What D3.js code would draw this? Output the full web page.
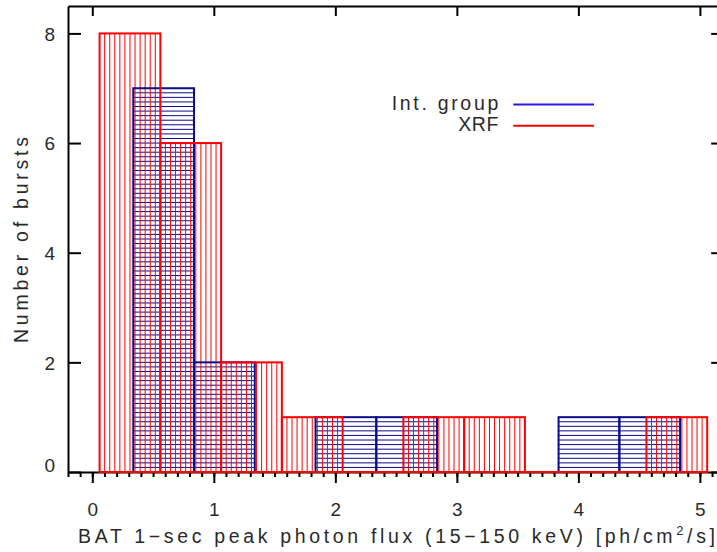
<!DOCTYPE html>
<html>
<head>
<meta charset="utf-8">
<script src="https://cdn.jsdelivr.net/npm/d3@7"></script>
<style>
  html, body { margin: 0; padding: 0; background: #fff; }
  svg { display: block; }
  text { font-family: "Liberation Sans", Arial, sans-serif; fill: #2a2a2a; }
</style>
</head>
<body>
<svg id="chart" width="717" height="552"></svg>
<script>
// Histogram bins (left edges, 0.5 wide) and burst counts per bin
const binWidth = 0.5;
const xrfLeftEdges = [0.06, 0.56, 1.06, 1.56, 2.06, 2.56, 3.06, 3.56, 4.06, 4.56];
const xrfCounts    = [8, 6, 2, 1, 0, 1, 1, 0, 0, 1];
const intLeftEdges = [0.337, 0.837, 1.337, 1.837, 2.337, 2.837, 3.337, 3.837, 4.337];
const intCounts    = [7, 2, 0, 1, 1, 0, 0, 1, 1];

// Axis ticks
const xMajorTicks = [0, 1, 2, 3, 4, 5];
const xMinorTicks = d3.range(-2, 53).map(i => i / 10);
const yTicks = [0, 2, 4, 6, 8];

const seriesNames = ["Int. group", "XRF"];
const xLabel = "BAT 1\u2212sec peak photon flux (15\u2212150 keV) [ph/cm";
const yLabel = "Number of bursts";

const svg = d3.select("#chart");
const plot = { left: 68, right: 724.2, top: 6, bottom: 472 };

const x = d3.scaleLinear().domain([-0.2, 5.2]).range([plot.left, plot.right]);
const y = d3.scaleLinear().domain([0, 8.5]).range([plot.bottom, plot.top]);

const INT_COLOR = "#0b0b8a";
const INT_LEGEND = "#2a16dc";
const XRF_COLOR = "#ff0000";

const intBins = intLeftEdges.map((x0, i) => ({ x0, x1: x0 + binWidth, n: intCounts[i] }));
const xrfBins = xrfLeftEdges.map((x0, i) => ({ x0, x1: x0 + binWidth, n: xrfCounts[i] }));

// Int. group: horizontal hatching, 12 lines per unit count
const gIntHatch = svg.append("g");
intBins.forEach(b => {
  for (let k = 1; k < b.n * 12; k++) {
    gIntHatch.append("line")
      .attr("x1", x(b.x0)).attr("x2", x(b.x1))
      .attr("y1", y(k / 12)).attr("y2", y(k / 12))
      .attr("stroke", INT_COLOR).attr("stroke-width", 1);
  }
});

// XRF: vertical hatching, 12 lines per bin
const gXrfHatch = svg.append("g");
xrfBins.filter(b => b.n > 0).forEach(b => {
  for (let k = 1; k < 12; k++) {
    const xv = b.x0 + k * (b.x1 - b.x0) / 12;
    gXrfHatch.append("line")
      .attr("x1", x(xv)).attr("x2", x(xv))
      .attr("y1", y(0)).attr("y2", y(b.n))
      .attr("stroke", XRF_COLOR).attr("stroke-width", 1);
  }
});

// Axes
const axisStyle = g => {
  g.selectAll("path.domain").attr("stroke", "#000").attr("stroke-width", 2);
  g.selectAll(".tick line").attr("stroke", "#000").attr("stroke-width", 2);
};

svg.append("g")
  .attr("transform", `translate(0,${plot.bottom})`)
  .call(d3.axisBottom(x).tickValues(xMinorTicks).tickSize(5).tickSizeOuter(0).tickFormat(""))
  .call(axisStyle);

const xMajor = svg.append("g")
  .attr("transform", `translate(0,${plot.bottom})`)
  .call(d3.axisBottom(x).tickValues(xMajorTicks).tickSize(11).tickSizeOuter(0).tickFormat(d3.format("d")))
  .call(axisStyle);
xMajor.select("path.domain").remove();
xMajor.selectAll(".tick text")
  .attr("y", 44).attr("dy", null)
  .style("font-size", "19px").attr("fill", "#2a2a2a");

svg.append("g")
  .attr("transform", `translate(0,${plot.top})`)
  .call(d3.axisTop(x).tickValues(xMajorTicks).tickSize(-10).tickSizeOuter(0).tickFormat(""))
  .call(axisStyle);

const yAxis = svg.append("g")
  .attr("transform", `translate(${plot.left},0)`)
  .call(d3.axisLeft(y).tickValues(yTicks).tickSize(-13).tickSizeOuter(0).tickPadding(13).tickFormat(d3.format("d")))
  .call(axisStyle);
yAxis.selectAll(".tick text")
  .attr("dy", d => d === 0 ? "-0.05em" : "0.36em")
  .style("font-size", "19px").attr("fill", "#2a2a2a");

svg.append("g")
  .attr("transform", `translate(${plot.right},0)`)
  .call(d3.axisRight(y).tickValues(yTicks).tickSize(-13).tickSizeOuter(0).tickFormat(""))
  .call(axisStyle);

// Bar outlines
svg.append("g").selectAll("rect")
  .data(intBins.filter(b => b.n > 0))
  .join("rect")
  .attr("x", b => x(b.x0)).attr("width", b => x(b.x1) - x(b.x0))
  .attr("y", b => y(b.n)).attr("height", b => y(0) - y(b.n))
  .attr("fill", "none").attr("stroke", INT_COLOR).attr("stroke-width", 2);

svg.append("g").selectAll("rect")
  .data(xrfBins.filter(b => b.n > 0))
  .join("rect")
  .attr("x", b => x(b.x0)).attr("width", b => x(b.x1) - x(b.x0))
  .attr("y", b => y(b.n)).attr("height", b => y(0) - y(b.n))
  .attr("fill", "none").attr("stroke", XRF_COLOR).attr("stroke-width", 2);

// XRF histogram baseline across its full range
svg.append("line")
  .attr("x1", x(xrfBins[0].x0)).attr("x2", x(xrfBins[xrfBins.length - 1].x1))
  .attr("y1", y(0)).attr("y2", y(0))
  .attr("stroke", XRF_COLOR).attr("stroke-width", 2);

// Axis titles
const xt = svg.append("text")
  .attr("x", 78).attr("y", 543)
  .style("font-size", "19.5px");
xt.append("tspan").text(xLabel);
xt.append("tspan").text("2").attr("dy", -8).style("font-size", "13px");
xt.append("tspan").text("/s]").attr("dy", 8);
xt.attr("textLength", 637).attr("lengthAdjust", "spacing");

svg.append("text")
  .attr("transform", "translate(28,240) rotate(-90)")
  .attr("text-anchor", "middle")
  .style("font-size", "19.5px")
  .attr("textLength", 206).attr("lengthAdjust", "spacing")
  .text(yLabel);

// Legend
const legend = svg.append("g");
const legendRows = [
  { name: seriesNames[0], color: INT_LEGEND, ty: 110, ly: 104.5, len: 106.6 },
  { name: seriesNames[1], color: XRF_COLOR, ty: 131, ly: 125.7, len: 40 }
];
legendRows.forEach(r => {
  legend.append("text")
    .attr("x", 498.3).attr("y", r.ty)
    .attr("text-anchor", "end")
    .style("font-size", "19.5px")
    .attr("textLength", r.len).attr("lengthAdjust", "spacing")
    .text(r.name);
  legend.append("line")
    .attr("x1", 513.3).attr("x2", 594).attr("y1", r.ly).attr("y2", r.ly)
    .attr("stroke", r.color).attr("stroke-width", 2);
});
</script>
</body>
</html>
